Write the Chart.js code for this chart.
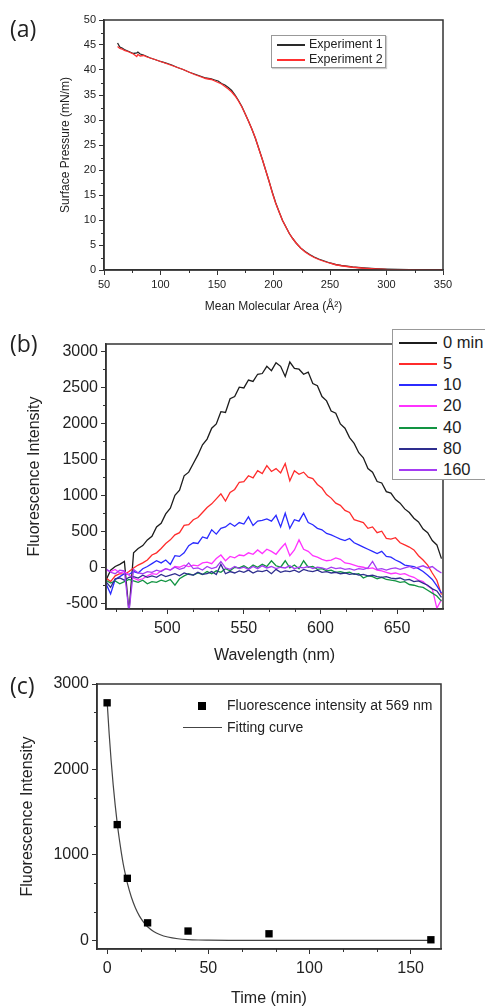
<!DOCTYPE html>
<html>
<head>
<meta charset="utf-8">
<script src="https://cdn.jsdelivr.net/npm/chart.js@4.4.1/dist/chart.umd.min.js"></script>
<style>
  body { margin: 0; background: #fff; width: 485px; height: 1008px; overflow: hidden; position: relative;
         font-family: "Liberation Sans", Arial, sans-serif; color: #222; }
  canvas { position: absolute; left: 0; }
  .tag { position: absolute; left: 10px; font-family: "Open Sans", sans-serif; font-size: 23px; line-height: 1; color: #222; }
  .lgd { position: absolute; background: #fff; white-space: nowrap; }
  .lgd .mk { position: absolute; }
  .lgd .tx { position: absolute; line-height: 1; }
</style>
</head>
<body>
<canvas id="chartA" width="485" height="320" style="top:0"></canvas>
<canvas id="chartB" width="485" height="348" style="top:320px"></canvas>
<canvas id="chartC" width="485" height="343" style="top:665px"></canvas>

<div class="tag" style="top:17px">(a)</div>
<div class="tag" style="top:332px">(b)</div>
<div class="tag" style="top:674px">(c)</div>

<div id="legendA" class="lgd" style="left:271px;top:35px;width:113px;height:31px;border:1px solid #999;box-shadow:1px 1px 1px #ccc"></div>
<div id="legendB" class="lgd" style="left:392px;top:329px;width:120px;height:149px;border:1.5px solid #999"></div>
<div id="legendC" class="lgd" style="left:180px;top:696px;width:280px;height:42px;background:transparent"></div>

<script>
// ---- (a) isotherm ----
var aArea = [62, 64, 66, 68, 70, 73, 76, 79, 80, 82, 85, 88, 91, 95, 100, 105, 110, 115, 120, 125, 130, 135,
  140, 145, 148, 151, 154, 157, 160, 163, 166, 169, 172, 175, 178, 181, 184, 187, 190, 193, 196, 199, 202,
  205, 208, 211, 214, 217, 220, 224, 228, 232, 236, 240, 245, 250, 255, 260, 270, 280, 290, 300, 310, 320, 335, 350];
var aExp1 = [45.4, 44.6, 44.4, 44.1, 43.9, 43.6, 43.3, 43.4, 43.6, 43.2, 43.0, 42.7, 42.4, 42.1, 41.7, 41.4, 41.0,
  40.5, 40.1, 39.6, 39.2, 38.8, 38.4, 38.2, 38.0, 37.8, 37.3, 37.0, 36.5, 35.9, 35.0, 33.9, 32.7,
  31.2, 29.7, 28.1, 26.3, 24.3, 22.2, 20.0, 17.8, 15.5, 13.4, 11.6, 9.9, 8.6, 7.3, 6.3, 5.4, 4.4, 3.7,
  3.1, 2.6, 2.2, 1.8, 1.4, 1.1, 0.9, 0.6, 0.4, 0.25, 0.15, 0.1, 0.06, 0.04, 0.03];
var aExp2 = [44.7, 44.3, 44.2, 43.9, 43.8, 43.5, 43.2, 42.7, 43.1, 42.8, 42.9, 42.6, 42.4, 42.1, 41.7, 41.3, 40.9,
  40.5, 40.1, 39.6, 39.1, 38.7, 38.3, 38.1, 37.8, 37.5, 37.2, 36.7, 36.2, 35.6, 34.8, 33.8, 32.6,
  31.2, 29.7, 28.1, 26.4, 24.2, 22.2, 20.0, 17.8, 15.4, 13.3, 11.6, 9.9, 8.6, 7.3, 6.3, 5.4, 4.4, 3.6,
  3.0, 2.5, 2.1, 1.7, 1.35, 1.05, 0.85, 0.55, 0.35, 0.22, 0.12, 0.08, 0.05, 0.03, 0.02];
var aTickX = [50, 100, 150, 200, 250, 300, 350];
var aTickY = [0, 5, 10, 15, 20, 25, 30, 35, 40, 45, 50];

// ---- (b) spectra ----
var bWave = [460, 463, 466, 469, 472, 475, 478, 481, 484, 487, 490, 493, 496, 499, 502, 505, 508, 511, 514, 517,
  520, 523, 526, 529, 532, 535, 538, 541, 544, 547, 550, 553, 556, 559, 562, 565, 568, 571, 574, 577,
  580, 583, 586, 589, 592, 595, 598, 601, 604, 607, 610, 613, 616, 619, 622, 625, 628, 631, 634, 637,
  640, 643, 646, 649, 652, 655, 658, 661, 664, 667, 670, 673, 676, 679];
var bLabels = ['0 min', '5', '10', '20', '40', '80', '160'];
var bColors = ['#1c1c1c', '#ff2b2b', '#2b2bff', '#ff33ff', '#129442', '#2e2e8e', '#a53cf2'];
var b0 = [-180, -40, 10, 40, 80, -620, 200, 260, 300, 380, 430, 560, 610, 740, 820, 1000, 1070, 1270, 1320, 1440,
  1560, 1700, 1780, 1930, 1990, 2160, 2150, 2340, 2370, 2500, 2490, 2600, 2580, 2680, 2690, 2790, 2730, 2840, 2790, 2650,
  2850, 2760, 2750, 2680, 2710, 2550, 2520, 2370, 2310, 2170, 2140, 1990, 1930, 1800, 1720, 1590, 1520, 1370, 1320, 1190,
  1170, 1050, 1030, 940, 890, 810, 760, 680, 630, 530, 480, 370, 310, 120];
var b5 = [-150, -200, -120, -90, -100, -60, -10, 30, 60, 100, 170, 200, 260, 330, 380, 450, 480, 580, 590, 660,
  690, 760, 830, 880, 950, 1020, 920, 1040, 1080, 1180, 1190, 1270, 1240, 1340, 1300, 1410, 1330, 1370, 1310, 1440,
  1200, 1340, 1290, 1320, 1250, 1230, 1150, 1100, 1010, 960, 890, 860, 790, 760, 660, 640, 620, 540, 560, 480,
  500, 400, 390, 410, 340, 310, 280, 240, 160, 100, 30, -80, -180, -380];
var b10 = [-230, -370, -170, -130, -90, -100, -60, -80, -20, 10, 50, 90, 60, 100, 40, 160, 150, 200, 300, 340,
  330, 420, 400, 520, 460, 540, 560, 610, 570, 620, 600, 700, 580, 640, 650, 670, 640, 720, 560, 750,
  540, 660, 640, 750, 620, 590, 540, 520, 470, 450, 420, 390, 370, 400, 340, 310, 280, 250, 220, 190,
  220, 150, 140, 100, 70, 30, 20, 10, -20, -60, -110, -170, -260, -360];
var b20 = [-40, -60, -30, -80, -60, -110, -150, -180, -160, -120, -90, -100, -50, -20, -40, 10, 0, 30, 10, 30,
  20, 60, 70, 50, 120, 170, 90, 150, 130, 170, 160, 200, 180, 240, 190, 250, 220, 180, 260, 330,
  160, 240, 380, 250, 220, 160, 140, 110, 90, 100, 130, 110, 60, 50, 30, 10, 0, -20, -10, -40,
  -50, -70, -90, -80, -100, -90, -120, -140, -180, -200, -260, -300, -570, -450];
var b40 = [-180, -220, -190, -230, -200, -170, -190, -210, -180, -230, -200, -210, -180, -200, -170, -250, -160, -120, -90, -110,
  -80, -100, -60, -90, -50, -70, -20, -50, 0, -10, 20, -20, 30, 0, 40, 10, 90, 20, 0, 90,
  -10, 30, -20, 90, 0, 10, -30, -20, -50, -40, -70, -60, -80, -70, -100, -90, -150, -120, -130, -160,
  -140, -170, -180, -190, -210, -200, -240, -250, -270, -280, -320, -360, -400, -470];
var b80 = [-200, -280, -160, -150, -180, -140, -130, -150, -110, -140, -120, -140, -100, -130, -110, -90, -120, -80, -100, -110,
  -70, -100, -90, -60, -100, 40, -90, -60, -80, -50, -70, -40, -80, -50, -60, -40, -90, -30, -70, -50,
  -60, -40, -70, -30, -50, -60, -40, -70, -60, -80, -70, -90, -80, -100, -90, -110, -100, -120, -110, -130,
  -140, -130, -150, -160, -150, -180, -170, -200, -190, -220, -250, -300, -330, -420];
var b160 = [-20, -70, -90, -40, -50, -620, -30, -80, -90, -60, -70, -40, -60, -20, -40, 0, -30, -10, 60, -20,
  -10, -40, 10, -20, 0, 80, -10, -30, 10, -20, 0, -30, 10, -20, 20, -10, 10, -20, 0, -10,
  20, -20, 0, -10, 10, -20, 0, -10, -30, 0, -20, -10, -30, -20, -40, -20, -30, -10, 80, -30,
  -20, -40, -20, -10, -30, -10, 10, -20, 0, 20, -10, 10, -40, -80];
var bTickX = [500, 550, 600, 650];
var bTickY = [-500, 0, 500, 1000, 1500, 2000, 2500, 3000];

// ---- (c) decay ----
var cTime = [0, 5, 10, 20, 40, 80, 160];
var cIntensity = [2780, 1355, 727, 206, 110, 78, 8];
var cFitT = [0, 1, 2, 3, 4, 5, 6, 7, 8, 9, 10, 12, 14, 16, 18, 20, 23, 26, 30, 35, 40, 45, 50, 60, 80, 100, 130, 160];
var cFitV = [2800, 2420, 2100, 1820, 1580, 1370, 1190, 1030, 890, 775, 670, 505, 380, 285, 215, 160, 105, 70, 40, 20, 10, 5, 3, 1, 0, 0, 0, 0];
var cTickX = [0, 50, 100, 150];
var cTickY = [0, 1000, 2000, 3000];

var FONT = '"Liberation Sans", Arial, sans-serif';
var INK = '#333';

function pairs(xs, ys) {
  return xs.map(function (x, i) { return { x: x, y: ys[i] }; });
}

function minorVals(majors, div, min, max) {
  var step = (majors[1] - majors[0]) / div;
  var out = [];
  for (var k = Math.ceil((min - majors[0]) / step - 1e-9); majors[0] + k * step <= max + 1e-9; k++) {
    if (k % div !== 0) out.push(majors[0] + k * step);
  }
  return out;
}

// box round the plot and the small in-between ticks
var frame = {
  id: 'frame',
  afterDraw: function (chart, args, opts) {
    var ctx = chart.ctx, a = chart.chartArea;
    var xs = chart.scales.x, ys = chart.scales.y;
    ctx.save();
    ctx.strokeStyle = INK;
    ctx.lineWidth = 1;
    ctx.beginPath();
    minorVals(opts.xMajor, opts.xDiv, xs.min, xs.max).forEach(function (v) {
      var px = Math.round(xs.getPixelForValue(v)) + 0.5;
      ctx.moveTo(px, a.bottom); ctx.lineTo(px, a.bottom + 3);
    });
    minorVals(opts.yMajor, opts.yDiv, ys.min, ys.max).forEach(function (v) {
      var py = Math.round(ys.getPixelForValue(v)) + 0.5;
      ctx.moveTo(a.left, py); ctx.lineTo(a.left - 3, py);
    });
    ctx.stroke();
    ctx.lineWidth = 1.5;
    ctx.strokeRect(a.left, a.top, a.right - a.left, a.bottom - a.top);
    ctx.restore();
  }
};

function axis(opt) {
  return {
    type: 'linear',
    position: opt.pos,
    min: opt.min,
    max: opt.max,
    afterBuildTicks: function (s) { s.ticks = opt.ticks.map(function (v) { return { value: v }; }); },
    afterFit: function (s) { if (opt.pos === 'left') s.width = opt.size; else s.height = opt.size; },
    grid: { drawOnChartArea: false, drawTicks: true, tickLength: 5, color: INK, tickWidth: 1 },
    border: { display: true, color: INK, width: 1.5 },
    ticks: { color: '#222', font: { family: FONT, size: opt.tickSize }, padding: opt.tickPad,
             callback: function (v) { return String(v); } },
    title: { display: true, text: opt.title, color: '#222', font: { family: FONT, size: opt.titleSize },
             padding: opt.titlePad }
  };
}

function baseOptions(pad, xAxis, yAxis, frameOpts) {
  return {
    responsive: false,
    animation: false,
    devicePixelRatio: 1,
    layout: { padding: pad },
    plugins: { legend: { display: false }, tooltip: { enabled: false }, frame: frameOpts },
    scales: { x: xAxis, y: yAxis }
  };
}

var chartA = new Chart(document.getElementById('chartA'), {
  type: 'scatter',
  data: {
    datasets: [
      { label: 'Experiment 1', data: pairs(aArea, aExp1), showLine: true, borderColor: '#2a2a2a',
        borderWidth: 1.3, pointRadius: 0, order: 1 },
      { label: 'Experiment 2', data: pairs(aArea, aExp2), showLine: true, borderColor: '#ff3030',
        borderWidth: 1.3, pointRadius: 0, order: 0 }
    ]
  },
  options: baseOptions({ left: 54, top: 20, right: 42, bottom: 0 },
    axis({ pos: 'bottom', min: 50, max: 350, ticks: aTickX, size: 50, tickSize: 11, tickPad: 3,
           title: 'Mean Molecular Area (\u00C5\u00B2)', titleSize: 12, titlePad: { top: 0, bottom: 6 } }),
    axis({ pos: 'left', min: 0, max: 50, ticks: aTickY, size: 50, tickSize: 11, tickPad: 3,
           title: 'Surface Pressure (mN/m)', titleSize: 12, titlePad: { top: 4, bottom: 0 } }),
    { xMajor: aTickX, xDiv: 2, yMajor: aTickY, yDiv: 2 }),
  plugins: [frame]
});

var bSeries = [b0, b5, b10, b20, b40, b80, b160];
var chartB = new Chart(document.getElementById('chartB'), {
  type: 'scatter',
  data: {
    datasets: bSeries.map(function (vals, i) {
      return { label: bLabels[i], data: pairs(bWave, vals), showLine: true, borderColor: bColors[i],
               borderWidth: 1.3, pointRadius: 0, order: bSeries.length - i };
    })
  },
  options: baseOptions({ left: 21, top: 24, right: 42, bottom: 0 },
    axis({ pos: 'bottom', min: 460, max: 680, ticks: bTickX, size: 59, tickSize: 16, tickPad: 5,
           title: 'Wavelength (nm)', titleSize: 16, titlePad: { top: 0, bottom: 3 } }),
    axis({ pos: 'left', min: -580, max: 3100, ticks: bTickY, size: 85, tickSize: 16, tickPad: 3,
           title: 'Fluorescence Intensity', titleSize: 16, titlePad: { top: 4, bottom: 0 } }),
    { xMajor: bTickX, xDiv: 3, yMajor: bTickY, yDiv: 2 }),
  plugins: [frame]
});

var chartC = new Chart(document.getElementById('chartC'), {
  type: 'scatter',
  data: {
    datasets: [
      { label: 'Fluorescence intensity at 569 nm', data: pairs(cTime, cIntensity), pointStyle: 'rect',
        pointRadius: 5.2, backgroundColor: '#000', borderColor: '#000', borderWidth: 0, order: 0 },
      { label: 'Fitting curve', data: pairs(cFitT, cFitV), showLine: true, borderColor: '#444',
        borderWidth: 1.2, pointRadius: 0, cubicInterpolationMode: 'monotone', order: 1 }
    ]
  },
  options: baseOptions({ left: 14, top: 19, right: 44, bottom: 0 },
    axis({ pos: 'bottom', min: -5, max: 165, ticks: cTickX, size: 59, tickSize: 16, tickPad: 5,
           title: 'Time (min)', titleSize: 16, titlePad: { top: 0, bottom: 0 } }),
    axis({ pos: 'left', min: -100, max: 3000, ticks: cTickY, size: 83, tickSize: 16, tickPad: 3,
           title: 'Fluorescence Intensity', titleSize: 16, titlePad: { top: 4, bottom: 0 } }),
    { xMajor: cTickX, xDiv: 3, yMajor: cTickY, yDiv: 3 }),
  plugins: [frame]
});

// legends built from the chart datasets
function legendRows(el, chart, o) {
  chart.data.datasets.forEach(function (ds, i) {
    var y = Math.round(o.firstY + i * o.stepY);
    var mk = document.createElement('div');
    mk.className = 'mk';
    if (ds.pointStyle === 'rect') {
      mk.style.cssText = 'left:' + (o.squareX - 4) + 'px;top:' + (y - 4) + 'px;width:8px;height:8px;background:' + ds.backgroundColor;
    } else {
      mk.style.cssText = 'left:' + o.lineX + 'px;top:' + (y - 1) + 'px;width:' + o.lineW + 'px;height:' + o.lineH + 'px;background:' + ds.borderColor;
    }
    el.appendChild(mk);
    var tx = document.createElement('div');
    tx.className = 'tx';
    tx.textContent = ds.label;
    tx.style.cssText = 'left:' + o.textX + 'px;top:' + (y - o.size * 0.55) + 'px;font-size:' + o.size + 'px';
    el.appendChild(tx);
  });
}

legendRows(document.getElementById('legendA'), chartA, { firstY: 8.5, stepY: 15.5, lineX: 5, lineW: 28, lineH: 2, textX: 37, size: 12.5 });
legendRows(document.getElementById('legendB'), chartB, { firstY: 12.5, stepY: 21.3, lineX: 6, lineW: 38, lineH: 2, textX: 50, size: 16.5 });
legendRows(document.getElementById('legendC'), chartC, { firstY: 10, stepY: 22, squareX: 22, lineX: 3, lineW: 39, lineH: 1, textX: 47, size: 14 });
</script>
</body>
</html>
